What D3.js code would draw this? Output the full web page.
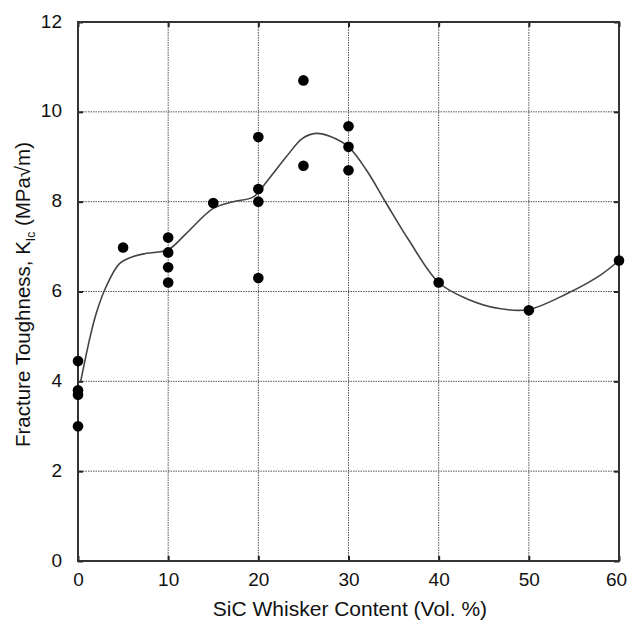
<!DOCTYPE html>
<html><head><meta charset="utf-8">
<script src="https://cdn.jsdelivr.net/npm/d3@7"></script>
<style>
body{margin:0;background:#fff;}
text{font-family:"Liberation Sans",Arial,Helvetica,sans-serif;fill:#111;}
</style></head>
<body><svg id="c" width="627" height="621"></svg>
<script>
const xTicks = [0,10,20,30,40,50,60];
const yTicks = [0,2,4,6,8,10,12];
// measured data points: SiC whisker content (vol.%) and K_Ic (MPa·√m)
const pointX = [0,0,0,0, 5, 10,10,10,10, 15, 20,20,20,20, 25,25, 30,30,30, 40, 50, 60];
const pointY = [4.45,3.8,3.7,3.0, 6.98, 7.2,6.87,6.54,6.2, 7.97, 9.44,8.28,8.0,6.3, 10.7,8.8, 9.68,9.22,8.7, 6.2, 5.58, 6.69];
// trend curve
const curveX = [0.3,1.3,2.0,3.1,4.6,6.0,7.6,10,12,15,17.2,19.4,20.9,23.1,24.9,26.4,28,30,32,34.2,36.7,40,43.1,46.7,50,54.2,57.9,60];
const curveY = [4.0,4.95,5.5,6.1,6.62,6.77,6.85,6.93,7.29,7.85,8.0,8.1,8.44,9.0,9.41,9.52,9.45,9.22,8.7,7.96,7.14,6.2,5.84,5.62,5.6,5.95,6.36,6.69];

const svg = d3.select("#c");
const m = {l:78, t:22, r:8, b:60};
const W = 627 - m.l - m.r, H = 621 - m.t - m.b;
const x = d3.scaleLinear().domain([0,60]).range([m.l, m.l+W]);
const y = d3.scaleLinear().domain([0,12]).range([m.t+H, m.t]);

// grid
const g = svg.append("g");
g.selectAll("line.vx").data(xTicks.slice(1,-1)).join("line")
  .attr("x1",d=>x(d)).attr("x2",d=>x(d)).attr("y1",m.t).attr("y2",m.t+H)
  .attr("stroke","#555").attr("stroke-width",1).attr("stroke-dasharray","1.5,1");
g.selectAll("line.hy").data(yTicks.slice(1,-1)).join("line")
  .attr("y1",d=>y(d)).attr("y2",d=>y(d)).attr("x1",m.l).attr("x2",m.l+W)
  .attr("stroke","#555").attr("stroke-width",1).attr("stroke-dasharray","1.5,1");

// axes with inward ticks
const fmt = d3.format("d");
const xa = svg.append("g").attr("transform",`translate(0,${m.t+H})`)
  .call(d3.axisBottom(x).tickValues(xTicks).tickSizeInner(-5).tickSizeOuter(0).tickPadding(12).tickFormat(fmt));
const xt = svg.append("g").attr("transform",`translate(0,${m.t})`)
  .call(d3.axisTop(x).tickValues(xTicks).tickSizeInner(-5).tickSizeOuter(0).tickFormat(""));
const ya = svg.append("g").attr("transform",`translate(${m.l},0)`)
  .call(d3.axisLeft(y).tickValues(yTicks).tickSizeInner(-5).tickSizeOuter(0).tickPadding(16).tickFormat(fmt));
const yr = svg.append("g").attr("transform",`translate(${m.l+W},0)`)
  .call(d3.axisRight(y).tickValues(yTicks).tickSizeInner(-5).tickSizeOuter(0).tickFormat(""));
[xa,xt,ya,yr].forEach(a=>{
  a.select(".domain").remove();
  a.selectAll(".tick line").attr("stroke","#222").attr("stroke-width",2);
  a.selectAll(".tick text").attr("font-size",19).attr("font-family","Liberation Sans, Arial, sans-serif").attr("fill","#111");
});
ya.selectAll(".tick text").attr("dy","0.27em");
xa.selectAll(".tick text").filter(d=>d===60).attr("dx",-3);

// frame
svg.append("rect").attr("x",m.l).attr("y",m.t).attr("width",W).attr("height",H)
  .attr("fill","none").attr("stroke","#333").attr("stroke-width",2);

// curve
const curve = d3.zip(curveX, curveY);
svg.append("path").datum(curve)
  .attr("d", d3.line().x(d=>x(d[0])).y(d=>y(d[1])).curve(d3.curveCatmullRom.alpha(0.5)))
  .attr("fill","none").attr("stroke","#444").attr("stroke-width",1.6);

// points
svg.append("g").selectAll("circle").data(d3.zip(pointX, pointY)).join("circle")
  .attr("cx",d=>x(d[0])).attr("cy",d=>y(d[1])).attr("r",5.3).attr("fill","#000");

// labels
svg.append("text").attr("x", 350).attr("y", 616).attr("text-anchor","middle")
  .attr("font-size",21).text("SiC Whisker Content (Vol. %)");
const yl = svg.append("text").attr("transform",`translate(30,${(m.t+m.t+H)/2 + 3}) rotate(-90)`)
  .attr("text-anchor","middle").attr("font-size",20.5);
yl.append("tspan").text("Fracture Toughness, K");
yl.append("tspan").attr("font-size",12).attr("dy",5).text("Ic");
yl.append("tspan").attr("dy",-5).text(" (MPa\u221Am)");
</script></body></html>
